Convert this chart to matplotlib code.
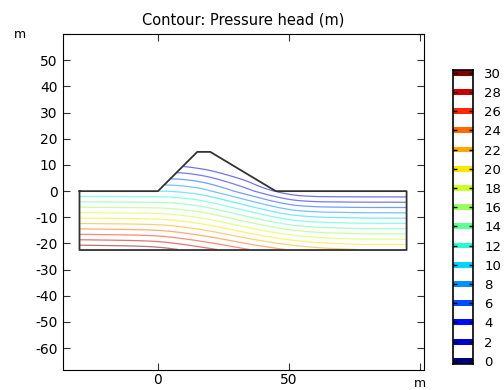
import numpy as np
import matplotlib
matplotlib.use('Agg')
import matplotlib.pyplot as plt
from matplotlib.path import Path

# geometry of the domain (m)
outline_x = [-30, 0, 15, 20, 45, 95, 95, -30, -30]
outline_y = [0, 0, 15, 15, 0, 0, -22.5, -22.5, 0]

# hydraulic head: inside the dam (y=10), at y=0 and at the bottom
hdam_x = [0, 10, 20, 35, 45, 52, 95]
hdam_h = [11.6, 11.6, 10.4, 7.5, 2.0, 0.1, -0.2]
hsurf_x = [-30, -10, 0, 5, 16, 25, 35, 45, 52, 60, 95]
hsurf_h = [10.05, 10.0, 10.0, 10.0, 9.0, 7.0, 4.5, 1.8, 0.3, -0.15, -0.2]
hbot_x = [-30, -10, 0, 8.4, 24, 36, 50, 62, 78, 95]
hbot_h = [9.3, 9.0, 8.6, 7.6, 5.5, 3.5, 1.5, 0.3, -0.4, -0.4]

levels = np.arange(0, 31, 2)
line_levels = levels[1:]
xticks = [0, 50, 100]
xticklabels = ['0', '50', '']
yticks = list(range(-60, 61, 10))
yticklabels = [str(v) for v in yticks[:-1]] + ['']

cmap = plt.get_cmap('jet')
norm = plt.Normalize(0, 30)

xs = np.linspace(-30, 95, 800)
ys = np.linspace(-22.5, 15, 400)
dx = xs[1] - xs[0]


def profile(px, ph, sigma=2.5):
    # piecewise-linear profile, softened with a gaussian so the contours bend smoothly
    h = np.interp(xs, px, ph)
    n = int(4 * sigma / dx)
    k = np.exp(-0.5 * (np.arange(-n, n + 1) * dx / sigma) ** 2)
    k /= k.sum()
    hp = np.concatenate([np.full(n, h[0]), h, np.full(n, h[-1])])
    return np.convolve(hp, k, mode='valid')


fig = plt.figure(figsize=(5.04, 3.90), dpi=100)
ax = fig.add_axes([0.125, 0.0513, 0.716, 0.8615])

X, Y = np.meshgrid(xs, ys)
Hd = profile(hdam_x, hdam_h, 2.0)[None, :]
Hs = profile(hsurf_x, hsurf_h, 2.5)[None, :]
Hb = profile(hbot_x, hbot_h, 3.0)[None, :]
w_low = np.clip((Y + 22.5) / 22.5, 0, 1)
w_up = np.clip(Y / 10.0, 0, 1)
H = np.where(Y < 0, Hb + (Hs - Hb) * w_low, Hs + (Hd - Hs) * w_up)
P = H - Y

poly = Path(np.column_stack([outline_x, outline_y]))
inside = poly.contains_points(np.column_stack([X.ravel(), Y.ravel()]), radius=0.3)
P = np.ma.masked_where(~inside.reshape(X.shape), P)

ax.contour(X, Y, P, levels=line_levels, cmap=cmap, norm=norm, linewidths=0.9, alpha=0.55)
ax.plot(outline_x, outline_y, color='#333333', lw=1.3)

ax.set_xlim(-36.3, 101.6)
ax.set_ylim(-68.3, 60.0)
ax.set_aspect('equal')
ax.set_xticks(xticks)
ax.set_xticklabels(xticklabels)
ax.set_yticks(yticks)
ax.set_yticklabels(yticklabels)
ax.tick_params(direction='in', top=True, right=True, length=5, labelsize=10, color='#333333')
ax.tick_params(axis='x', pad=2)
ax.tick_params(axis='y', pad=4)
ax.text(-0.135, 1.0, 'm', transform=ax.transAxes, fontsize=9, ha='left', va='center')
ax.text(0.99, -0.042, 'm', transform=ax.transAxes, fontsize=9, ha='center', va='center')
ax.set_title('Contour: Pressure head (m)', fontsize=10.5, pad=7)

# colorbar made of separated bands
cax = fig.add_axes([453 / 504, (390 - 364) / 390, 20 / 504, 294 / 390])
cax.barh(levels, [1] * len(levels), height=0.62, left=0, color=cmap(norm(levels)))
cax.set_xlim(0, 1)
cax.set_ylim(-0.34, 30.28)
cax.set_xticks([])
cax.set_yticks(levels)
cax.yaxis.tick_right()
cax.tick_params(axis='y', direction='in', left=True, right=True, length=3, width=1,
                labelsize=9.5, pad=8)
for s in cax.spines.values():
    s.set_linewidth(1.2)

fig.savefig('out.png', dpi=100)
